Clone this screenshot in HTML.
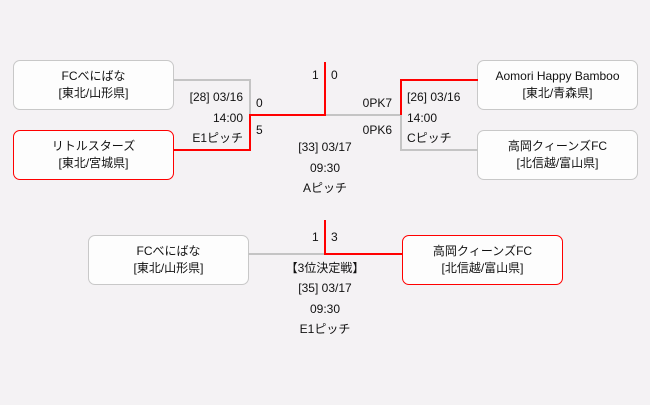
<!DOCTYPE html>
<html><head><meta charset="utf-8"><style>
body{margin:0;width:650px;height:405px;background:#f4f2f4;position:relative;overflow:hidden;font-family:"Liberation Sans","Noto Sans CJK JP",sans-serif;font-size:12px;color:#111}
.b{position:absolute;width:161px;height:50px;background:#fdfdfd;border:1px solid #c8c8c8;border-radius:7px;text-align:center;line-height:17px;box-sizing:border-box;padding-top:7px}
.r{border-color:#f00}
.t{position:absolute;white-space:nowrap;line-height:14px}
.l{position:absolute}
.g{background:#c4c4c4}.d{background:#f00}
</style></head><body>
<div class="b" style="left:13px;top:60px">FCべにばな<br>[東北/山形県]</div>
<div class="b r" style="left:13px;top:130px">リトルスターズ<br>[東北/宮城県]</div>
<div class="b" style="left:477px;top:60px">Aomori Happy Bamboo<br>[東北/青森県]</div>
<div class="b" style="left:477px;top:130px">高岡クィーンズFC<br>[北信越/富山県]</div>
<div class="b" style="left:88px;top:235px">FCべにばな<br>[東北/山形県]</div>
<div class="b r" style="left:402px;top:235px">高岡クィーンズFC<br>[北信越/富山県]</div>

<div class="l g" style="left:174px;top:79px;width:77px;height:2px"></div>
<div class="l g" style="left:249px;top:79px;width:2px;height:36px"></div>
<div class="l d" style="left:174px;top:149px;width:77px;height:2px"></div>
<div class="l d" style="left:249px;top:114px;width:2px;height:37px"></div>
<div class="l d" style="left:249px;top:114px;width:77px;height:2px"></div>
<div class="l d" style="left:324px;top:62px;width:2px;height:54px"></div>
<div class="l g" style="left:326px;top:114px;width:76px;height:2px"></div>
<div class="l d" style="left:400px;top:79px;width:2px;height:36px"></div>
<div class="l d" style="left:400px;top:79px;width:78px;height:2px"></div>
<div class="l g" style="left:400px;top:116px;width:2px;height:35px"></div>
<div class="l g" style="left:400px;top:149px;width:78px;height:2px"></div>

<div class="l g" style="left:248px;top:253px;width:78px;height:2px"></div>
<div class="l d" style="left:324px;top:220px;width:2px;height:35px"></div>
<div class="l d" style="left:324px;top:253px;width:79px;height:2px"></div>

<div class="t" style="right:407px;top:90px">[28] 03/16</div>
<div class="t" style="right:407px;top:111px">14:00</div>
<div class="t" style="right:407px;top:131px">E1ピッチ</div>
<div class="t" style="left:256px;top:96px">0</div>
<div class="t" style="left:256px;top:123px">5</div>
<div class="t" style="left:312px;top:68px">1</div>
<div class="t" style="left:331px;top:68px">0</div>
<div class="t" style="right:258px;top:96px">0PK7</div>
<div class="t" style="right:258px;top:123px">0PK6</div>
<div class="t" style="left:407px;top:90px">[26] 03/16</div>
<div class="t" style="left:407px;top:111px">14:00</div>
<div class="t" style="left:407px;top:131px">Cピッチ</div>
<div class="t" style="left:225px;width:200px;text-align:center;top:140px">[33] 03/17</div>
<div class="t" style="left:225px;width:200px;text-align:center;top:161px">09:30</div>
<div class="t" style="left:225px;width:200px;text-align:center;top:181px">Aピッチ</div>

<div class="t" style="left:312px;top:230px">1</div>
<div class="t" style="left:331px;top:230px">3</div>
<div class="t" style="left:225px;width:200px;text-align:center;top:261px">【3位決定戦】</div>
<div class="t" style="left:225px;width:200px;text-align:center;top:281px">[35] 03/17</div>
<div class="t" style="left:225px;width:200px;text-align:center;top:302px">09:30</div>
<div class="t" style="left:225px;width:200px;text-align:center;top:322px">E1ピッチ</div>
</body></html>
